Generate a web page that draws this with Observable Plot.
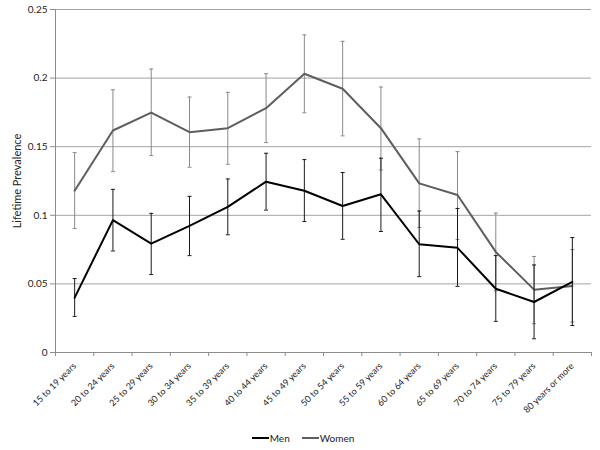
<!DOCTYPE html>
<html><head><meta charset="utf-8">
<script src="https://cdn.jsdelivr.net/npm/d3@7"></script>
<script src="https://cdn.jsdelivr.net/npm/@observablehq/plot@0.6"></script>
<style>
body{margin:0;background:#fff;font-family:Lato,"Liberation Sans",sans-serif;}
#chart svg{display:block;}
#legend{display:flex;justify-content:center;align-items:center;height:25px;font-size:10px;color:#222;padding-left:6px;box-sizing:border-box;width:600px;}
#legend .item{display:flex;align-items:center;margin:0 6px;}
#legend .sw{width:17px;height:2px;margin-right:1px;}
</style></head><body>
<div id="chart"></div>
<div id="legend"></div>
<script>
const ageGroups = ["15 to 19 years","20 to 24 years","25 to 29 years","30 to 34 years","35 to 39 years","40 to 44 years","45 to 49 years","50 to 54 years","55 to 59 years","60 to 64 years","65 to 69 years","70 to 74 years","75 to 79 years","80 years or more"];
const series = ["Men","Women"];
const menValue  = [0.040,0.0965,0.0794,0.0923,0.1062,0.1245,0.1179,0.1068,0.1153,0.0789,0.0763,0.0465,0.0368,0.0514];
const menLow    = [0.0263,0.0740,0.0568,0.0706,0.0858,0.1038,0.0955,0.0825,0.0882,0.0553,0.0482,0.0227,0.0100,0.0197];
const menHigh   = [0.0539,0.1189,0.1014,0.1138,0.1265,0.1452,0.1406,0.1312,0.1416,0.1031,0.1050,0.0706,0.0638,0.0838];
const womenValue= [0.1179,0.1618,0.1749,0.1606,0.1635,0.1781,0.2032,0.1922,0.1635,0.1233,0.1148,0.0733,0.0458,0.0485];
const womenLow  = [0.0904,0.1318,0.1435,0.1350,0.1372,0.1530,0.1747,0.1579,0.1330,0.0911,0.0824,0.0450,0.0210,0.0222];
const womenHigh = [0.1457,0.1915,0.2066,0.1862,0.1896,0.2032,0.2315,0.2268,0.1935,0.1557,0.1464,0.1016,0.0700,0.0750];
const yTicks = [0,0.05,0.1,0.15,0.2,0.25];
const yTickLabels = ["0","0.05","0.1","0.15","0.2","0.25"];
const yLabel = "Lifetime Prevalence";

const colors = {Men:"#000000", Women:"#5e5e5e"};
const barColors = {Men:"#1a1a1a", Women:"#8a8a8a"};

const rows = [];
ageGroups.forEach((g,i)=>{
  rows.push({pos:i+0.5, group:g, sex:"Men", value:menValue[i], low:menLow[i], high:menHigh[i]});
});
ageGroups.forEach((g,i)=>{
  rows.push({pos:i+0.5, group:g, sex:"Women", value:womenValue[i], low:womenLow[i], high:womenHigh[i]});
});
const boundaries = ageGroups.map((_,i)=>i).concat([ageGroups.length]);
const centers = ageGroups.map((_,i)=>i+0.5);

const cap = {draw(ctx, size){ const r = Math.sqrt(size/Math.PI); ctx.moveTo(-r,0); ctx.lineTo(r,0); }};

const women = rows.filter(d=>d.sex==="Women");
const men = rows.filter(d=>d.sex==="Men");

function errMarks(data, sex){
  return [
    Plot.ruleX(data, {x:"pos", y1:"low", y2:"high", stroke:barColors[sex], strokeWidth:1}),
    Plot.dot(data, {x:"pos", y:"low", symbol:cap, r:2, fill:"none", stroke:barColors[sex], strokeWidth:1}),
    Plot.dot(data, {x:"pos", y:"high", symbol:cap, r:2, fill:"none", stroke:barColors[sex], strokeWidth:1})
  ];
}

const chart = Plot.plot({
  width:600, height:425,
  marginLeft:55, marginRight:9, marginTop:9, marginBottom:73,
  style:{fontFamily:"Lato, 'Liberation Sans', sans-serif", fontSize:"10px", color:"#222", background:"#fff"},
  x:{type:"linear", domain:[0, ageGroups.length]},
  y:{domain:[0,0.25]},
  marks:[
    Plot.gridY(yTicks, {stroke:"#a3a3a3", strokeOpacity:1}),
    Plot.ruleX([0], {stroke:"#8c8c8c"}),
    Plot.ruleY([0], {stroke:"#8c8c8c"}),
    Plot.axisY(yTicks, {tickFormat:d=>yTickLabels[yTicks.indexOf(d)], tickSize:5, tickPadding:3, stroke:"#8c8c8c", fill:"#222", label:null, fontSize:10}),
    Plot.axisY({label:yLabel, labelAnchor:"center", labelArrow:"none", labelOffset:42, ticks:[], tickSize:0, fontSize:11, fill:"#222"}),
    Plot.axisX(boundaries, {tickSize:4, text:null, stroke:"#8c8c8c", label:null}),
    Plot.axisX(centers, {tickSize:0, tickRotate:-45, tickPadding:12, tickFormat:d=>ageGroups[Math.floor(d)], fill:"#222", label:null, fontSize:9}),
    ...errMarks(women,"Women"),
    Plot.line(women, {x:"pos", y:"value", stroke:colors.Women, strokeWidth:2}),
    ...errMarks(men,"Men"),
    Plot.line(men, {x:"pos", y:"value", stroke:colors.Men, strokeWidth:2})
  ]
});
document.getElementById("chart").append(chart);

const legend = document.getElementById("legend");
series.forEach(s=>{
  const it = document.createElement("div"); it.className="item";
  const sw = document.createElement("div"); sw.className="sw"; sw.style.background=colors[s];
  const tx = document.createElement("span"); tx.textContent=s;
  it.append(sw, tx); legend.append(it);
});
</script>
</body></html>
